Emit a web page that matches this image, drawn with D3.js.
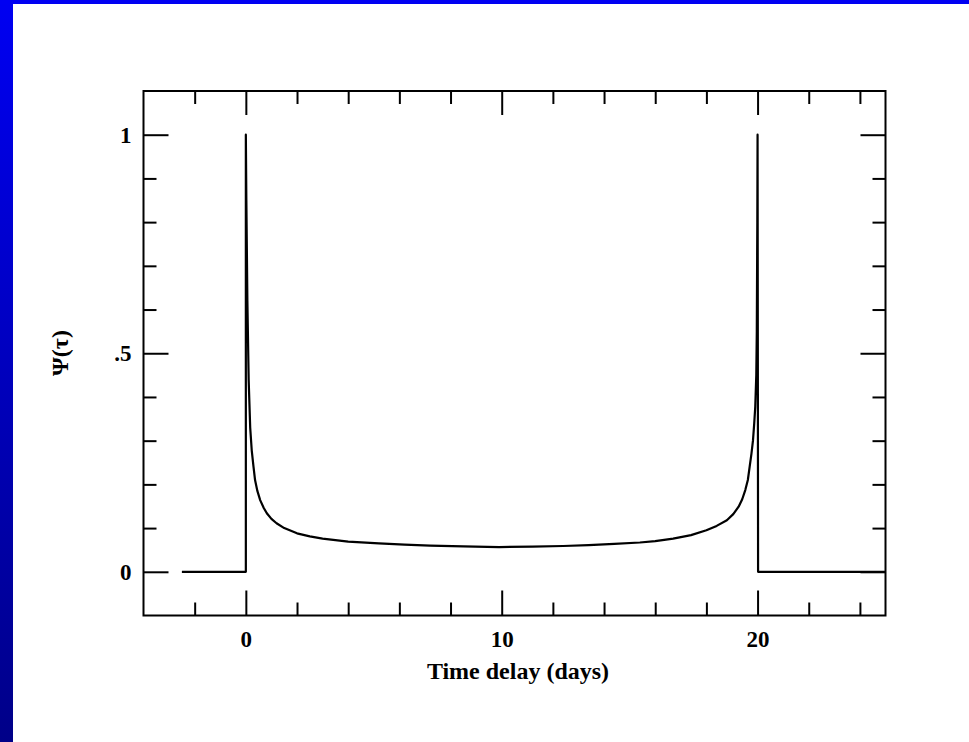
<!DOCTYPE html>
<html>
<head>
<meta charset="utf-8">
<script src="https://cdn.jsdelivr.net/npm/d3@7"></script>
<style>
  html, body { margin: 0; padding: 0; background: #fff; }
  svg { display: block; }
  text { font-family: "Liberation Serif", "Times New Roman", serif; font-weight: bold; fill: #000; }
</style>
</head>
<body>
<svg id="chart" width="969" height="742"></svg>
<script>
// ---- data ----
const tau = [-2.5, 0, 0, 0.02, 0.06, 0.11, 0.17, 0.23, 0.3, 0.36, 0.45, 0.56, 0.7, 0.82, 1.0, 1.2, 1.5, 2.0, 2.5, 3.0, 4.0, 5.2, 6.2, 7.2, 8.5, 9.9, 11.2, 12.4, 13.4, 14.4, 15.4, 16.0, 16.7, 17.4, 18.0, 18.4, 18.8, 19.05, 19.26, 19.4, 19.52, 19.62, 19.69, 19.76, 19.82, 19.87, 19.91, 19.95, 19.97, 19.99, 20.0, 20.02, 25];
const psi = [0, 0, 1, 0.85, 0.62, 0.44, 0.33, 0.278, 0.24, 0.21, 0.185, 0.164, 0.146, 0.134, 0.121, 0.111, 0.1, 0.088, 0.081, 0.076, 0.069, 0.065, 0.062, 0.06, 0.058, 0.0566, 0.0575, 0.059, 0.061, 0.064, 0.067, 0.070, 0.076, 0.084, 0.095, 0.105, 0.118, 0.132, 0.149, 0.166, 0.187, 0.21, 0.24, 0.27, 0.30, 0.34, 0.378, 0.45, 0.55, 0.8, 1, 0, 0];

const xDomain = [-4, 25];
const yDomain = [-0.1, 1.1];
const xMajorTicks = [0, 10, 20];
const xMinorTicks = [-2, 2, 4, 6, 8, 12, 14, 16, 18, 22, 24];
const yMajorTicks = [0, 0.5, 1];
const yMajorLabels = ["0", ".5", "1"];
const yMinorTicks = [0.1, 0.2, 0.3, 0.4, 0.6, 0.7, 0.8, 0.9];
const xTitle = "Time delay (days)";
const yTitle = "\u03A8(\u03C4)";

// ---- layout ----
const W = 969, H = 742;
const L = 143.5, R = 885.5, T = 91, B = 615.5;
const svg = d3.select("#chart");

// background border gradient
const defs = svg.append("defs");
const grad = defs.append("linearGradient").attr("id", "bandGrad")
  .attr("x1", 0).attr("y1", 0).attr("x2", 0).attr("y2", 1);
grad.append("stop").attr("offset", "0%").attr("stop-color", "#0000f2");
grad.append("stop").attr("offset", "100%").attr("stop-color", "#000088");
svg.append("rect").attr("x", 0).attr("y", 0).attr("width", 13).attr("height", H).attr("fill", "url(#bandGrad)");
svg.append("rect").attr("x", 0).attr("y", 0).attr("width", W).attr("height", 4).attr("fill", "#0000f2");

const x = d3.scaleLinear().domain(xDomain).range([L, R]);
const y = d3.scaleLinear().domain(yDomain).range([B, T]);

function styleAxis(g) {
  g.select(".domain").remove();
  g.selectAll(".tick line").attr("stroke", "#000").attr("stroke-width", 2);
  g.selectAll(".tick text").style("font-size", "23px").style("font-family", "'Liberation Serif', serif").style("font-weight", "bold");
}

// bottom
svg.append("g").attr("transform", `translate(0,${B})`)
  .call(d3.axisBottom(x).tickValues(xMinorTicks).tickSizeInner(-13).tickSizeOuter(0).tickFormat(""))
  .call(styleAxis);
svg.append("g").attr("transform", `translate(0,${B})`)
  .call(d3.axisBottom(x).tickValues(xMajorTicks).tickSizeInner(-25).tickSizeOuter(0).tickPadding(15).tickFormat(d3.format("d")))
  .call(styleAxis);
// top
svg.append("g").attr("transform", `translate(0,${T})`)
  .call(d3.axisTop(x).tickValues(xMinorTicks).tickSizeInner(-13).tickSizeOuter(0).tickFormat(""))
  .call(styleAxis);
svg.append("g").attr("transform", `translate(0,${T})`)
  .call(d3.axisTop(x).tickValues(xMajorTicks).tickSizeInner(-24).tickSizeOuter(0).tickFormat(""))
  .call(styleAxis);
// left
svg.append("g").attr("transform", `translate(${L},0)`)
  .call(d3.axisLeft(y).tickValues(yMinorTicks).tickSizeInner(-13).tickSizeOuter(0).tickFormat(""))
  .call(styleAxis);
svg.append("g").attr("transform", `translate(${L},0)`)
  .call(d3.axisLeft(y).tickValues(yMajorTicks).tickSizeInner(-25).tickSizeOuter(0).tickPadding(12)
    .tickFormat((d, i) => yMajorLabels[i]))
  .call(styleAxis);
// right
svg.append("g").attr("transform", `translate(${R},0)`)
  .call(d3.axisRight(y).tickValues(yMinorTicks).tickSizeInner(-13).tickSizeOuter(0).tickFormat(""))
  .call(styleAxis);
svg.append("g").attr("transform", `translate(${R},0)`)
  .call(d3.axisRight(y).tickValues(yMajorTicks).tickSizeInner(-25).tickSizeOuter(0).tickFormat(""))
  .call(styleAxis);

// frame
svg.append("rect").attr("x", L).attr("y", T).attr("width", R - L).attr("height", B - T)
  .attr("fill", "none").attr("stroke", "#000").attr("stroke-width", 2);

// curve
const pts = tau.map((t, i) => [t, psi[i]]);
svg.append("path").datum(pts)
  .attr("fill", "none").attr("stroke", "#000").attr("stroke-width", 2.2)
  .attr("stroke-linejoin", "round")
  .attr("d", d3.line().x(d => x(d[0])).y(d => y(d[1])).curve(d3.curveLinear));

// titles
svg.append("text").attr("x", 518).attr("y", 679).attr("text-anchor", "middle")
  .style("font-size", "24px").text(xTitle);
svg.append("text").attr("transform", `translate(68,353) rotate(-90)`).attr("text-anchor", "middle")
  .style("font-size", "24px").text(yTitle);
</script>
</body>
</html>
